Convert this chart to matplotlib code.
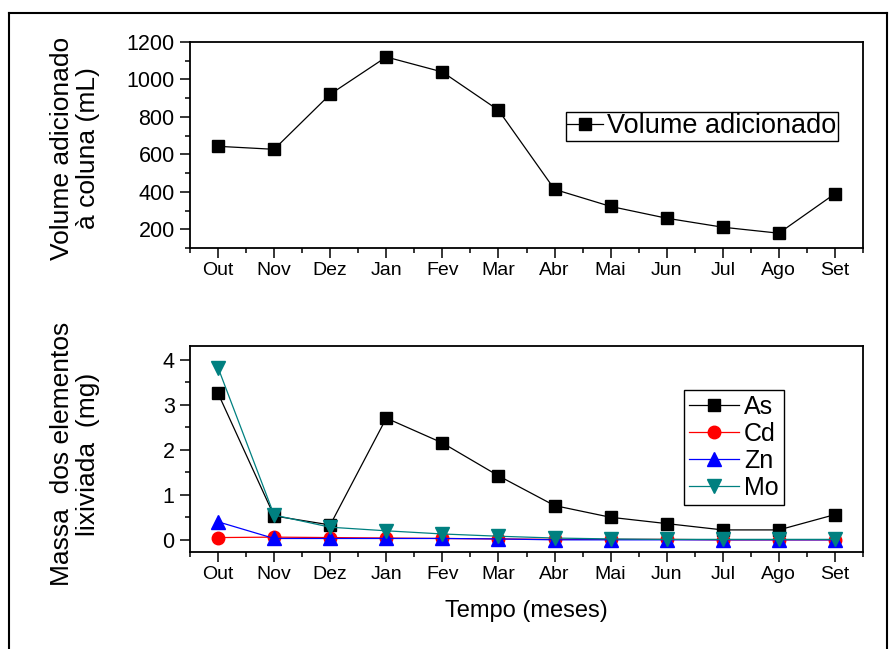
import numpy as np
import matplotlib.pyplot as plt
from matplotlib.lines import Line2D
from matplotlib.ticker import MultipleLocator

plt.rcParams.update({'font.family': 'Liberation Sans'})

# data
months = ["Out", "Nov", "Dez", "Jan", "Fev", "Mar", "Abr", "Mai", "Jun", "Jul", "Ago", "Set"]
volume = [643, 627, 921, 1120, 1040, 836, 413, 322, 259, 211, 179, 390]

mass_as = [3.25, 0.53, 0.33, 2.70, 2.15, 1.42, 0.76, 0.50, 0.36, 0.22, 0.22, 0.56]
mass_cd = [0.05, 0.06, 0.05, 0.04, 0.03, 0.02, 0.01, 0.01, 0.01, 0.0, 0.0, 0.0]
mass_zn = [0.40, 0.03, 0.03, 0.03, 0.03, 0.02, 0.0, 0.0, 0.0, 0.0, 0.0, 0.0]
mass_mo = [3.82, 0.55, 0.28, 0.20, 0.13, 0.08, 0.04, 0.02, 0.01, 0.01, 0.01, 0.01]

XTICK_FS = 14
YTICK_FS = 15.5
LABEL_FS = 19
LEG_FS = 19.5
LW = 0.9

W, H = 894, 649
fig = plt.figure(figsize=(W / 100, H / 100), dpi=100)

def px_axes(left, top, right, bottom):
    return fig.add_axes([left / W, 1 - bottom / H, (right - left) / W, (bottom - top) / H])

def style(ax):
    x = np.arange(len(months))
    ax.set_xlim(-0.5, 11.5)
    ax.set_xticks(x)
    ax.set_xticklabels(months)
    ax.xaxis.set_minor_locator(MultipleLocator(0.5))
    ax.tick_params(which="major", direction="out", length=7, width=1.1, pad=3)
    ax.tick_params(which="minor", direction="out", length=3.5, width=1.1)
    ax.tick_params(axis="x", labelsize=XTICK_FS)
    ax.tick_params(axis="y", labelsize=YTICK_FS, pad=4)
    ax.tick_params(top=False, right=False, which="both")
    for s in ax.spines.values():
        s.set_linewidth(1.3)

x = np.arange(len(months))

# top panel
ax1 = px_axes(190, 42, 863, 248)
ax1.plot(x, volume, color="black", lw=LW, marker="s", ms=8.5, label="Volume adicionado")
ax1.set_ylim(100, 1200)
ax1.yaxis.set_major_locator(MultipleLocator(200))
ax1.yaxis.set_minor_locator(MultipleLocator(100))
style(ax1)
ax1.set_yticks([200, 400, 600, 800, 1000, 1200])
ax1.legend(loc="upper right", bbox_to_anchor=(0.963, 0.66), fontsize=LEG_FS,
           fancybox=False, edgecolor="black", framealpha=1, handlelength=1.35,
           handletextpad=0.15, borderpad=0.05, borderaxespad=0)

# bottom panel
ax2 = px_axes(190, 346, 863, 552)
ax2.plot(x, mass_as, color="black", lw=LW, marker="s", ms=8.5, label="As")
ax2.plot(x, mass_cd, color="red", lw=LW, marker="o", ms=9, label="Cd")
ax2.plot(x, mass_zn, color="blue", lw=LW, marker="^", ms=10, label="Zn")
ax2.plot(x, mass_mo, color="#008080", lw=LW, marker="v", ms=10, label="Mo")
ax2.set_ylim(-0.27, 4.3)
ax2.yaxis.set_major_locator(MultipleLocator(1))
ax2.yaxis.set_minor_locator(MultipleLocator(0.5))
style(ax2)
ax2.legend(loc="upper right", bbox_to_anchor=(0.882, 0.786), fontsize=18,
           fancybox=False, edgecolor="black", framealpha=1, handlelength=2.0,
           handletextpad=0.2, borderpad=0.2, labelspacing=0.12, borderaxespad=0)
ax2.set_xlabel("Tempo (meses)", fontsize=17, labelpad=12)

# y labels (two lines each)
fig.text(75 / W, 1 - 148 / H, "Volume adicionado\nà coluna (mL)", rotation=90,
         ha="center", va="center", fontsize=LABEL_FS, linespacing=1.1)
fig.text(75 / W, 1 - 454 / H, "Massa  dos elementos\nlixiviada  (mg)", rotation=90,
         ha="center", va="center", fontsize=LABEL_FS, linespacing=1.1)

# outer frame
fl, ft, fr = 8.5 / W, 1 - 12.5 / H, 886.5 / W
fig.add_artist(Line2D([fl, fl], [0, ft], color="black", lw=1.5))
fig.add_artist(Line2D([fl, fr], [ft, ft], color="black", lw=1.5))
fig.add_artist(Line2D([fr, fr], [0, ft], color="black", lw=1.5))

fig.savefig("out.png", dpi=100)
